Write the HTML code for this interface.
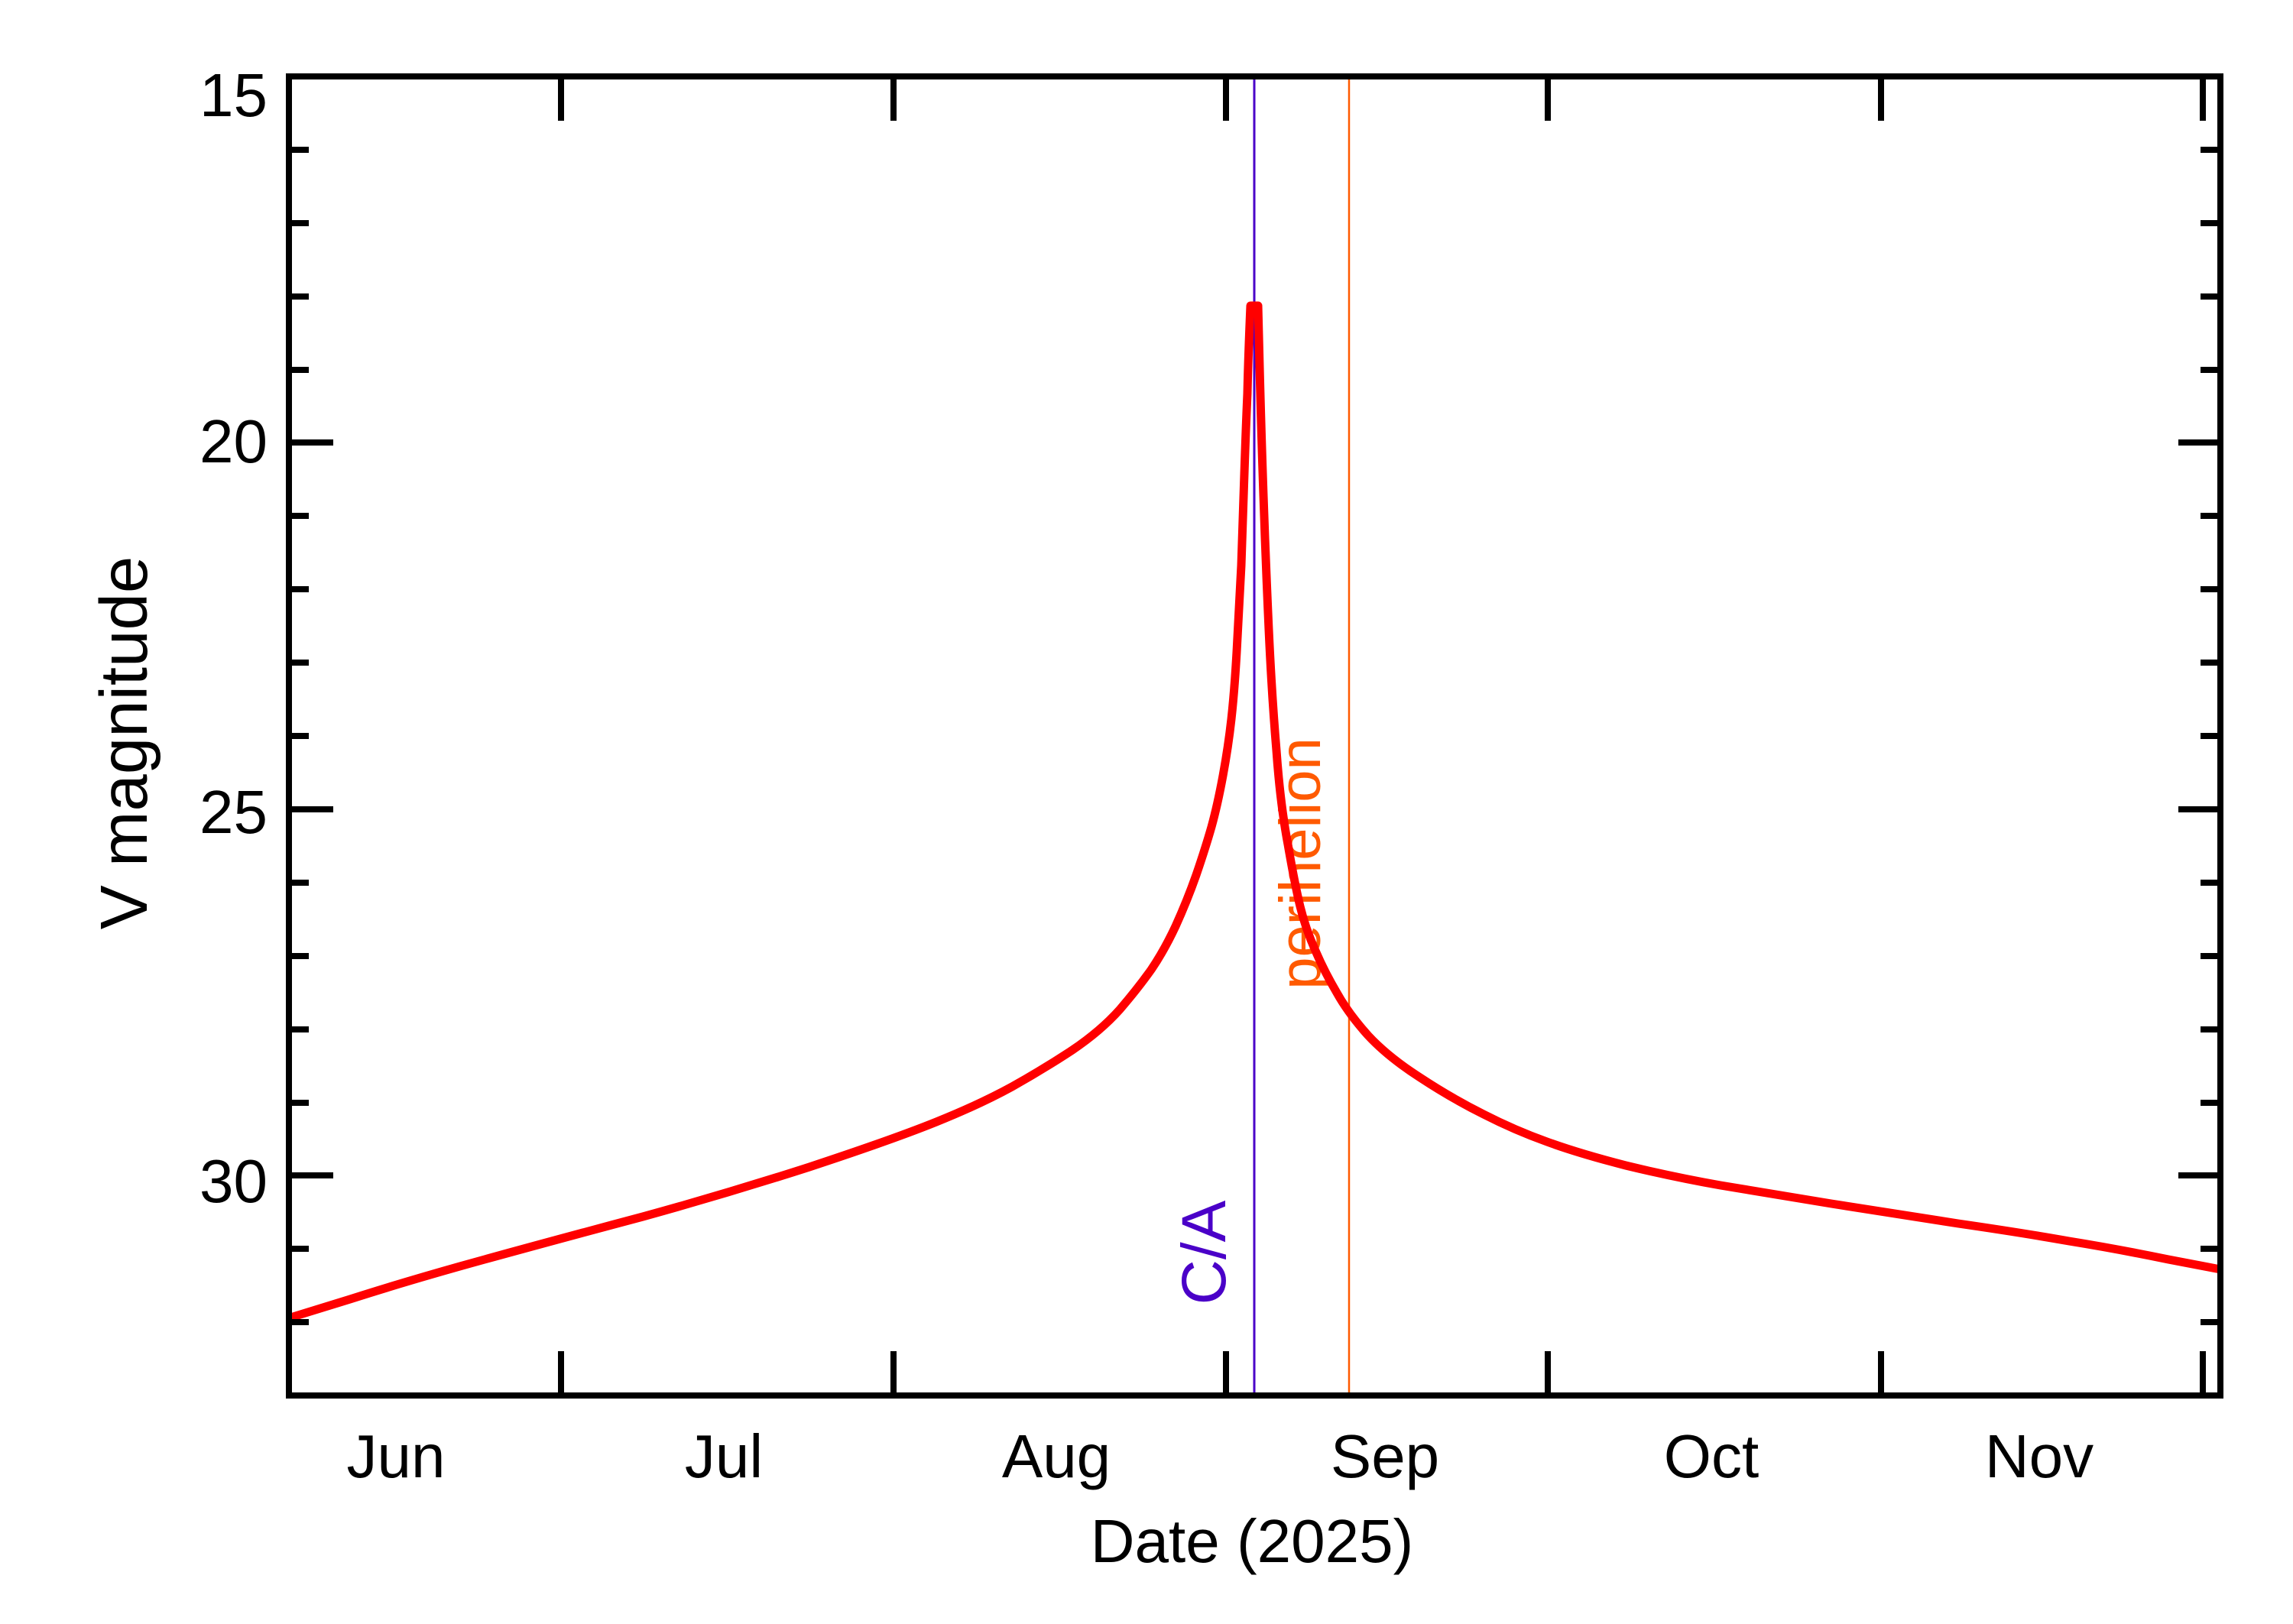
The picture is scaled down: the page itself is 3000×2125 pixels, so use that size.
<!DOCTYPE html>
<html><head><meta charset="utf-8"><style>html,body{margin:0;padding:0;background:#fff}svg{display:block}</style></head>
<body>
<svg width="3000" height="2125" viewBox="0 0 3000 2125" xmlns="http://www.w3.org/2000/svg" font-family="Liberation Sans, DejaVu Sans, sans-serif">
<rect width="3000" height="2125" fill="#fff"/>
<line x1="1641" y1="100" x2="1641" y2="1826" stroke="#4a00c8" stroke-width="3"/>
<line x1="1765" y1="100" x2="1765" y2="1826" stroke="#ff5a00" stroke-width="2.5"/>
<text transform="translate(1603,1639) rotate(-90)" text-anchor="middle" font-size="82" fill="#4a00c8">C/A</text>
<text transform="translate(1727,1130) rotate(-90)" text-anchor="middle" font-size="76" fill="#ff5a00">perihelion</text>
<path fill="none" stroke="#ff0000" stroke-width="11" stroke-linejoin="round" d="M380,1724 L458,1700 Q536,1675 634,1648 Q732,1621 841,1592 Q950,1562 1059,1527 Q1168,1491 1225,1468 Q1282,1445 1324,1422 Q1365,1399 1403,1374 Q1440,1349 1465,1321 Q1489,1293 1506,1269 Q1523,1244 1538,1212 Q1553,1179 1565,1145 Q1577,1110 1585,1082 Q1593,1053 1600,1015 Q1607,977 1611,941 Q1615,905 1618,853 Q1621,800 1624,740 Q1626,680 1628,620 Q1630,560 1632,515 Q1633,470 1636,400 L1646,400 L1648,480 Q1650,560 1653,648 Q1656,736 1660,824 Q1664,911 1670,982 Q1675,1052 1685,1105 Q1694,1157 1701,1186 Q1708,1215 1721,1244 Q1733,1272 1749,1299 Q1764,1326 1790,1355 Q1816,1383 1858,1410 Q1899,1437 1941,1458 Q1982,1479 2024,1494 Q2065,1509 2127,1525 Q2189,1540 2251,1551 Q2313,1561 2396,1575 Q2479,1588 2562,1601 Q2645,1613 2707,1624 Q2769,1634 2837,1648 L2905,1661"/>
<rect x="378" y="100" width="2527" height="1726" fill="none" stroke="#000" stroke-width="8"/>
<g stroke="#000" stroke-width="8">
<line x1="378" y1="579" x2="436" y2="579"/><line x1="378" y1="1059" x2="436" y2="1059"/><line x1="378" y1="1538" x2="436" y2="1538"/>
<line x1="2905" y1="579" x2="2850" y2="579"/><line x1="2905" y1="1059" x2="2850" y2="1059"/><line x1="2905" y1="1538" x2="2850" y2="1538"/>
<g id="ym">
<line x1="378" y1="196" x2="404" y2="196"/><line x1="378" y1="292" x2="404" y2="292"/><line x1="378" y1="388" x2="404" y2="388"/><line x1="378" y1="484" x2="404" y2="484"/>
<line x1="378" y1="675" x2="404" y2="675"/><line x1="378" y1="771" x2="404" y2="771"/><line x1="378" y1="867" x2="404" y2="867"/><line x1="378" y1="963" x2="404" y2="963"/>
<line x1="378" y1="1155" x2="404" y2="1155"/><line x1="378" y1="1251" x2="404" y2="1251"/><line x1="378" y1="1347" x2="404" y2="1347"/><line x1="378" y1="1443" x2="404" y2="1443"/>
<line x1="378" y1="1634" x2="404" y2="1634"/><line x1="378" y1="1730" x2="404" y2="1730"/>
</g>
<use href="#ym" transform="translate(3283,0) scale(-1,1)"/>
<line x1="734" y1="1826" x2="734" y2="1768"/><line x1="1169" y1="1826" x2="1169" y2="1768"/><line x1="1604" y1="1826" x2="1604" y2="1768"/><line x1="2025" y1="1826" x2="2025" y2="1768"/><line x1="2461" y1="1826" x2="2461" y2="1768"/><line x1="2882" y1="1826" x2="2882" y2="1768"/>
<line x1="734" y1="100" x2="734" y2="158"/><line x1="1169" y1="100" x2="1169" y2="158"/><line x1="1604" y1="100" x2="1604" y2="158"/><line x1="2025" y1="100" x2="2025" y2="158"/><line x1="2461" y1="100" x2="2461" y2="158"/><line x1="2882" y1="100" x2="2882" y2="158"/>
</g>
<g font-size="80" fill="#000">
<text x="350" y="152" text-anchor="end">15</text>
<text x="350" y="605" text-anchor="end">20</text>
<text x="350" y="1090" text-anchor="end">25</text>
<text x="350" y="1573" text-anchor="end">30</text>
<g text-anchor="middle">
<text x="518" y="1933">Jun</text>
<text x="947" y="1933">Jul</text>
<text x="1382" y="1933">Aug</text>
<text x="1812" y="1933">Sep</text>
<text x="2239" y="1933">Oct</text>
<text x="2668" y="1933">Nov</text>
<text x="1638" y="2044">Date (2025)</text>
<text transform="translate(192,972) rotate(-90)" font-size="87">V magnitude</text>
</g>
</g>
</svg>
</body></html>
